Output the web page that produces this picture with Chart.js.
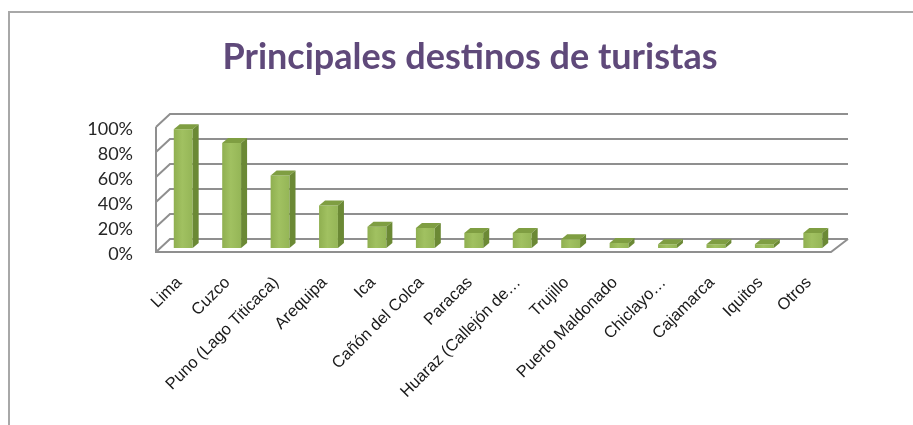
<!DOCTYPE html>
<html>
<head>
<meta charset="utf-8">
<script src="https://cdn.jsdelivr.net/npm/chart.js@4.4.1/dist/chart.umd.min.js"></script>
<style>
  html, body { margin: 0; padding: 0; background: #fff; overflow: hidden; }
  canvas { display: block; }
</style>
</head>
<body>
<canvas id="c" width="913" height="425"></canvas>
<script>
// Destinations and the share of tourists visiting each one (%)
const categories = [
  'Lima', 'Cuzco', 'Puno (Lago Titicaca)', 'Arequipa', 'Ica', 'Cañón del Colca',
  'Paracas', 'Huaraz (Callejón de…', 'Trujillo', 'Puerto Maldonado', 'Chiclayo…',
  'Cajamarca', 'Iquitos', 'Otros'
];
const shares = [95, 84, 58, 34, 17, 16, 12, 12, 7, 4, 3, 3, 3, 12];
const yTicks = [0, 20, 40, 60, 80, 100];
const titleText = 'Principales destinos de turistas';

// Box geometry of the pseudo-3D plot (pixels, relative to the bar plane)
const WALL = { frontX: -3, frontY: 4, backX: 11, backY: -9, rightFront: -6, rightBack: 11 };
const BAR_DEPTH = { dx: 6, dy: -5 };

// Draws the outer frame, back wall grid, side wall, floor and bar depth faces
const box3d = {
  id: 'box3d',
  beforeDraw(chart) {
    const ctx = chart.ctx;
    ctx.save();
    ctx.strokeStyle = '#a8a8a8';
    ctx.lineWidth = 2;
    ctx.beginPath();
    ctx.moveTo(9, chart.height);
    ctx.lineTo(9, 12);
    ctx.lineTo(chart.width, 12);
    ctx.stroke();
    ctx.restore();
  },
  beforeDatasetsDraw(chart) {
    const { ctx, chartArea: a, scales: { y } } = chart;
    const fL = a.left + WALL.frontX, bL = a.left + WALL.backX;
    const fR = a.right + WALL.rightFront, bR = a.right + WALL.rightBack;
    const rise = WALL.frontY - WALL.backY;
    ctx.save();
    ctx.strokeStyle = '#8f8f8f';
    ctx.lineWidth = 2;
    ctx.lineCap = 'butt';
    yTicks.forEach(v => {
      const yb = Math.round(y.getPixelForValue(v) + WALL.backY);
      ctx.beginPath();
      ctx.moveTo(fL, yb + rise);
      ctx.lineTo(bL, yb);
      ctx.lineTo(bR, yb);
      ctx.stroke();
    });
    const yTopF = Math.round(y.getPixelForValue(yTicks[yTicks.length - 1]) + WALL.frontY);
    const yZeroF = Math.round(y.getPixelForValue(0) + WALL.frontY);
    ctx.beginPath();
    ctx.moveTo(fL, yTopF);
    ctx.lineTo(fL, yZeroF);
    ctx.lineTo(fR, yZeroF);
    ctx.lineTo(bR, yZeroF - rise);
    ctx.stroke();
    ctx.restore();
  },
  afterDatasetsDraw(chart) {
    const ctx = chart.ctx;
    const meta = chart.getDatasetMeta(0);
    ctx.save();
    meta.data.forEach(bar => {
      const { x, y, base, width } = bar.getProps(['x', 'y', 'base', 'width'], true);
      const l = x - width / 2, r = x + width / 2;
      const dx = BAR_DEPTH.dx, dy = BAR_DEPTH.dy;
      ctx.fillStyle = '#7f9e42';
      ctx.beginPath();
      ctx.moveTo(l, y); ctx.lineTo(r, y); ctx.lineTo(r + dx, y + dy); ctx.lineTo(l + dx, y + dy);
      ctx.closePath(); ctx.fill();
      ctx.fillStyle = '#6b8935';
      ctx.beginPath();
      ctx.moveTo(r, y); ctx.lineTo(r + dx, y + dy); ctx.lineTo(r + dx, base + dy); ctx.lineTo(r, base);
      ctx.closePath(); ctx.fill();
    });
    ctx.restore();
  }
};

function frontFace(c) {
  const chart = c.chart;
  if (!chart.chartArea || c.dataIndex === undefined) return '#9bbb59';
  const cx = chart.scales.x.getPixelForValue(c.dataIndex);
  const g = chart.ctx.createLinearGradient(cx - 10, 0, cx + 10, 0);
  g.addColorStop(0, '#8eae4f');
  g.addColorStop(0.45, '#a1c161');
  g.addColorStop(1, '#94b556');
  return g;
}

new Chart(document.getElementById('c'), {
  type: 'bar',
  data: {
    labels: categories,
    datasets: [{
      data: shares,
      backgroundColor: frontFace,
      borderWidth: 0,
      categoryPercentage: 1,
      barPercentage: 0.39
    }]
  },
  options: {
    responsive: false,
    devicePixelRatio: 1,
    animation: false,
    layout: { padding: { left: 72, right: 45, top: 0, bottom: 0 } },
    plugins: {
      legend: { display: false },
      tooltip: { enabled: false },
      title: {
        display: true,
        text: titleText,
        color: '#5f497a',
        font: { family: 'Lato', size: 36, weight: 'bold', lineHeight: 1.2 },
        padding: { top: 35.4, bottom: 44.4 }
      }
    },
    scales: {
      x: {
        grid: { display: false, drawTicks: false },
        border: { display: false },
        ticks: {
          autoSkip: false,
          minRotation: 45,
          maxRotation: 45,
          padding: 25,
          labelOffset: -4,
          color: '#1a1a1a',
          font: { family: 'Liberation Sans', size: 16.5 }
        },
        afterFit(s) { s.height = 177; }
      },
      y: {
        min: 0,
        max: 100,
        grid: { display: false, drawTicks: false },
        border: { display: false },
        ticks: {
          stepSize: 20,
          padding: 26,
          labelOffset: 6,
          color: '#262626',
          font: { family: 'Lato', size: 18 },
          callback: v => v + '%'
        },
        afterFit(s) { s.width = 87; }
      },
      // empty right-hand margin that keeps the plot box clear of the edge
      yRight: {
        position: 'right',
        display: true,
        min: 0,
        max: 100,
        grid: { display: false, drawTicks: false },
        border: { display: false },
        ticks: { display: false },
        afterFit(s) { s.width = 31; }
      }
    }
  },
  plugins: [box3d]
});
</script>
</body>
</html>
